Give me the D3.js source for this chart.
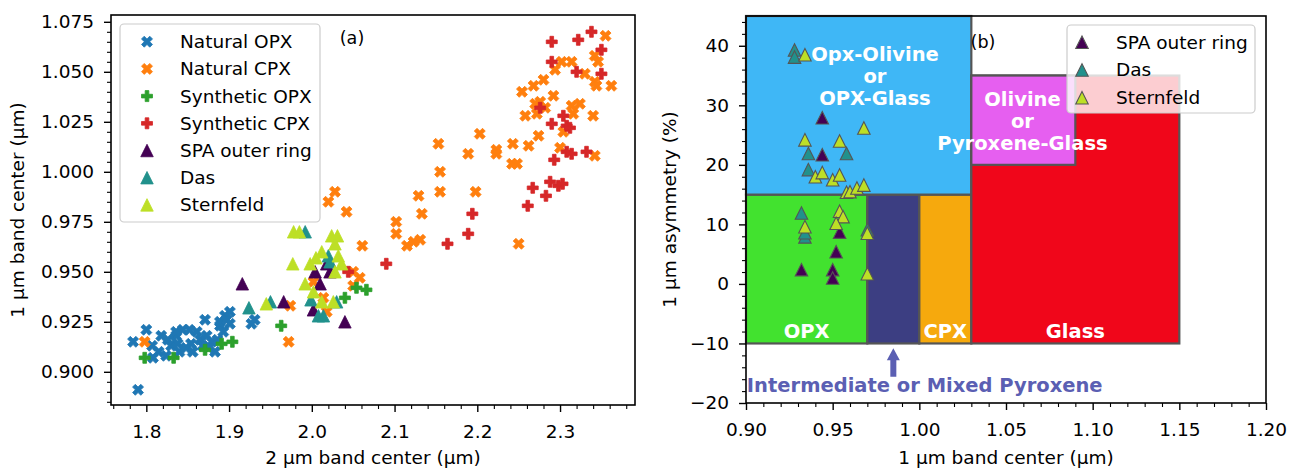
<!DOCTYPE html>
<html><head><meta charset="utf-8">
<script src="https://cdn.jsdelivr.net/npm/d3@7"></script>
<style>
body{margin:0;background:#fff;}
svg{display:block;}
text{font-family:"DejaVu Sans",sans-serif;}
</style>
</head><body>
<svg id="c" width="1295" height="469"></svg>
<script>
// ---------------- DATA ----------------
// Panel (a): 2 µm band center vs 1 µm band center
const natOpx = [[1.784,0.915],[1.800,0.921],[1.818,0.918],[1.807,0.913],[1.815,0.910],[1.808,0.907],[1.824,0.908],[1.830,0.913],[1.836,0.918],[1.844,0.921],[1.852,0.921],[1.861,0.920],[1.840,0.910],[1.848,0.912],[1.854,0.914],[1.865,0.916],[1.871,0.926],[1.873,0.918],[1.879,0.915],[1.883,0.910],[1.875,0.912],[1.889,0.923],[1.889,0.925],[1.895,0.928],[1.901,0.930],[1.901,0.924],[1.893,0.920],[1.838,0.914],[1.856,0.910],[1.790,0.891],[1.927,0.924],[1.931,0.926],[1.897,0.926],[1.836,0.920],[1.826,0.916],[1.868,0.913],[1.886,0.916]];
const natCpx = [[1.798,0.915],[1.972,0.915],[1.974,0.933],[2.028,0.990],[2.020,0.985],[2.042,0.980],[2.061,0.963],[2.050,0.950],[2.058,0.947],[2.050,0.943],[2.002,0.945],[2.014,0.937],[2.018,0.930],[2.102,0.975],[2.102,0.969],[2.115,0.963],[2.123,0.965],[2.131,0.966],[2.129,0.988],[2.133,0.979],[2.153,1.014],[2.155,1.000],[2.155,0.990],[2.189,1.009],[2.203,1.019],[2.198,0.990],[2.223,1.011],[2.223,1.009],[2.243,1.014],[2.242,1.004],[2.248,1.004],[2.250,0.964],[2.355,1.068],[2.342,1.058],[2.346,1.055],[2.302,1.055],[2.314,1.055],[2.294,1.051],[2.330,1.049],[2.280,1.046],[2.268,1.043],[2.254,1.040],[2.342,1.045],[2.344,1.043],[2.362,1.043],[2.292,1.038],[2.270,1.034],[2.276,1.035],[2.282,1.032],[2.314,1.033],[2.324,1.034],[2.316,1.029],[2.258,1.028],[2.272,1.029],[2.340,1.028],[2.304,1.020],[2.274,1.018],[2.262,1.013],[2.300,1.012],[2.342,1.008]];
const synOpx = [[1.798,0.907],[1.833,0.907],[1.871,0.911],[1.891,0.914],[1.904,0.915],[1.963,0.923],[2.040,0.937],[2.054,0.942],[2.066,0.941]];
const synCpx = [[2.044,0.950],[2.090,0.954],[2.164,0.964],[2.189,0.969],[2.194,0.979],[2.261,0.983],[2.267,0.992],[2.283,0.988],[2.288,0.995],[2.298,0.993],[2.303,0.994],[2.293,1.006],[2.308,1.010],[2.314,1.009],[2.332,1.010],[2.290,1.065],[2.322,1.066],[2.338,1.070],[2.350,1.061],[2.290,1.055],[2.320,1.050],[2.350,1.049],[2.276,1.032],[2.304,1.028],[2.308,1.023],[2.312,1.022],[2.290,1.024]];
const spaA = [[1.916,0.944],[1.966,0.935],[2.004,0.950],[2.010,0.944],[2.002,0.931],[2.018,0.954],[2.022,0.950],[2.040,0.925]];
const dasA = [[1.924,0.932],[1.950,0.935],[1.992,0.970],[2.020,0.958],[1.999,0.936],[2.030,0.935],[2.008,0.928],[2.014,0.928],[2.022,0.955]];
const sternA = [[1.978,0.970],[1.985,0.970],[2.024,0.968],[2.031,0.968],[2.028,0.964],[1.977,0.954],[1.998,0.954],[2.012,0.960],[2.032,0.958],[2.036,0.954],[2.028,0.950],[1.992,0.944],[2.002,0.940],[2.012,0.935],[1.945,0.934],[2.026,0.935],[2.005,0.957]];

// Panel (b): 1 µm band center vs 1 µm asymmetry (%)
const spaB = [[0.944,27.9],[0.944,21.7],[0.954,8.7],[0.952,5.4],[0.932,2.4],[0.950,2.4],[0.950,1.0]];
const dasB = [[0.928,39.3],[0.928,38.1],[0.936,21.9],[0.958,21.9],[0.936,19.2],[0.932,11.9],[0.970,9.1],[0.934,7.9],[0.934,8.6]];
const sternB = [[0.934,38.5],[0.934,24.2],[0.954,24.0],[0.968,26.2],[0.940,18.0],[0.944,18.7],[0.950,17.5],[0.954,18.3],[0.958,15.4],[0.960,15.5],[0.964,16.1],[0.968,16.6],[0.954,12.2],[0.956,11.3],[0.952,10.2],[0.934,9.6],[0.970,8.5],[0.970,1.7]];

// Classification regions [x0, x1, y0, y1]
const regionNames = ["OPX", "Intermediate", "CPX", "Opx-Olivine", "Glass", "Olivine"];
const regionBounds = [[0.90,0.97,-10,15],[0.97,1.00,-10,15],[1.00,1.03,-10,15],[0.90,1.03,15,45],[1.03,1.15,-10,35],[1.03,1.09,20,35]];
const regionColors = ["#42e22f","#3c3e82","#f6a90d","#3fb7f6","#f0061a","#e65ff0"];
const regionLabels = [
  {lines:["OPX"], x:0.935, y:-8},
  {lines:["CPX"], x:1.015, y:-8},
  {lines:["Glass"], x:1.09, y:-8},
  {lines:["Opx-Olivine","or","OPX-Glass"], x:0.9744, y:38.6},
  {lines:["Olivine","or","Pyroxene-Glass"], x:1.0595, y:31.1}
];
const arrowX = 0.985, arrowY = [-15.6, -10.8];
const noteText = "Intermediate or Mixed Pyroxene", noteX = 0.9005, noteY = -17.0;

// ticks
const axTicksX = [1.8,1.9,2.0,2.1,2.2,2.3];
const axTicksY = [0.900,0.925,0.950,0.975,1.000,1.025,1.050,1.075];
const bxTicksX = [0.90,0.95,1.00,1.05,1.10,1.15,1.20];
const bxTicksY = [-20,-10,0,10,20,30,40];

const legendA = ["Natural OPX","Natural CPX","Synthetic OPX","Synthetic CPX","SPA outer ring","Das","Sternfeld"];
const legendB = ["SPA outer ring","Das","Sternfeld"];

// ---------------- STYLE ----------------
const C = {natOpx:"#1f77b4", natCpx:"#ff7f0e", synOpx:"#2ca02c", synCpx:"#d62728",
           spa:"#440154", das:"#21918c", stern:"#bddf26"};
const FS = 18.5, FB = 19.5;

function shapePath(type, s){
  let pts;
  if(type==="X"){ pts=[[-1,-2],[0,-1],[1,-2],[2,-1],[1,0],[2,1],[1,2],[0,1],[-1,2],[-2,1],[-1,0],[-2,-1]].map(p=>[p[0]*s/4,p[1]*s/4]); }
  else if(type==="P"){ pts=[[-1,-3],[1,-3],[1,-1],[3,-1],[3,1],[1,1],[1,3],[-1,3],[-1,1],[-3,1],[-3,-1],[-1,-1]].map(p=>[p[0]*s/6,p[1]*s/6]); }
  else { pts=[[0,-1],[-1,1],[1,1]].map(p=>[p[0]*s/2,p[1]*s/2]); }
  return "M"+pts.map(p=>p[0].toFixed(2)+","+p[1].toFixed(2)).join("L")+"Z";
}

const svg = d3.select("#c");

function styleAxis(g){
  g.select(".domain").remove();
  g.selectAll(".tick line").attr("stroke","#000").attr("stroke-width",1.4);
  g.selectAll(".tick text").attr("font-size",FS).attr("fill","#000").attr("font-family","DejaVu Sans");
}
function minorTicks(lo, hi, step, majors){
  const out=[]; const n=Math.round((hi-lo)/step);
  for(let i=0;i<=n;i++){ const v=+(lo+i*step).toFixed(6); if(!majors.some(m=>Math.abs(m-v)<step/10)) out.push(v); }
  return out;
}

// ---------------- PANEL A ----------------
const A = {l:111, r:635, t:15, b:405};
const xA = d3.scaleLinear().domain([1.7573,2.3906]).range([A.l,A.r]);
const yA = d3.scaleLinear().domain([0.8834,1.0784]).range([A.b,A.t]);
const gA = svg.append("g");

function scatter(g, data, type, color, xs, ys, s, edge){
  g.append("g").selectAll("path").data(data).enter().append("path")
    .attr("d", shapePath(type,s))
    .attr("transform", d=>`translate(${xs(d[0])},${ys(d[1])})`)
    .attr("fill", color)
    .attr("stroke", edge? "#555":color)
    .attr("stroke-width", edge?1.1:0.8)
    .attr("stroke-linejoin","miter");
}
scatter(gA, natOpx, "X", C.natOpx, xA, yA, 11);
scatter(gA, natCpx, "X", C.natCpx, xA, yA, 11);
scatter(gA, synOpx, "P", C.synOpx, xA, yA, 11);
scatter(gA, synCpx, "P", C.synCpx, xA, yA, 11);
scatter(gA, spaA, "^", C.spa, xA, yA, 12.5);
scatter(gA, dasA, "^", C.das, xA, yA, 12.5);
scatter(gA, sternA, "^", C.stern, xA, yA, 12.5);

// axes A
gA.append("g").attr("transform",`translate(0,${A.b})`)
  .call(d3.axisBottom(xA).tickValues(axTicksX).tickFormat(d3.format(".1f")).tickSize(7).tickPadding(13)).call(styleAxis);
gA.append("g").attr("transform",`translate(0,${A.b})`)
  .call(d3.axisBottom(xA).tickValues(minorTicks(1.76,2.38,0.02,axTicksX)).tickFormat("").tickSize(4)).call(styleAxis)
  .selectAll(".tick line").attr("stroke-width",1.1);
gA.append("g").attr("transform",`translate(${A.l},0)`)
  .call(d3.axisLeft(yA).tickValues(axTicksY).tickFormat(d3.format(".3f")).tickSize(7).tickPadding(10)).call(styleAxis);
gA.append("g").attr("transform",`translate(${A.l},0)`)
  .call(d3.axisLeft(yA).tickValues(minorTicks(0.885,1.075,0.005,axTicksY)).tickFormat("").tickSize(4)).call(styleAxis)
  .selectAll(".tick line").attr("stroke-width",1.1);
gA.append("rect").attr("x",A.l).attr("y",A.t).attr("width",A.r-A.l).attr("height",A.b-A.t)
  .attr("fill","none").attr("stroke","#000").attr("stroke-width",1.6);

gA.append("text").attr("x",(A.l+A.r)/2).attr("y",464).attr("text-anchor","middle").attr("font-size",FS).text("2 µm band center (µm)");
gA.append("text").attr("transform",`translate(18,${(A.t+A.b)/2}) rotate(-90)`).attr("text-anchor","middle").attr("dy","0.35em").attr("font-size",FS).text("1 µm band center (µm)");
gA.append("text").attr("x",352).attr("y",38).attr("dy","0.35em").attr("text-anchor","middle").attr("font-size",FS*0.95).text("(a)");

// legend A
const legA = gA.append("g");
legA.append("rect").attr("x",120).attr("y",24).attr("width",200).attr("height",198).attr("rx",4)
  .attr("fill","#fff").attr("fill-opacity",0.8).attr("stroke","#ccc").attr("stroke-width",1.2);
const legAShapes = ["X","X","P","P","^","^","^"];
const legAColors = [C.natOpx,C.natCpx,C.synOpx,C.synCpx,C.spa,C.das,C.stern];
legendA.forEach((name,i)=>{
  const y = 41.7 + i*27.2;
  legA.append("path").attr("d",shapePath(legAShapes[i], legAShapes[i]==="^"?12.5:11))
    .attr("transform",`translate(147,${y})`).attr("fill",legAColors[i]).attr("stroke",legAColors[i]).attr("stroke-width",0.8);
  legA.append("text").attr("x",180).attr("y",y).attr("dy","0.35em").attr("font-size",FS).text(name);
});

// ---------------- PANEL B ----------------
const B = {l:746, r:1266, t:16, b:403};
const xB = d3.scaleLinear().domain([0.9,1.2]).range([B.l,B.r]);
const yB = d3.scaleLinear().domain([-20,45]).range([B.b,B.t]);
const gB = svg.append("g");

gB.append("g").selectAll("rect").data(regionBounds).enter().append("rect")
  .attr("x",d=>xB(d[0])).attr("y",d=>yB(d[3]))
  .attr("width",d=>xB(d[1])-xB(d[0])).attr("height",d=>yB(d[2])-yB(d[3]))
  .attr("fill",(d,i)=>regionColors[i]).attr("stroke","#555").attr("stroke-width",2.2);

regionLabels.forEach(lb=>{
  lb.lines.forEach((ln,j)=>{
    gB.append("text").attr("x",xB(lb.x)).attr("y",yB(lb.y)+j*22).attr("dy","0.35em")
      .attr("text-anchor","middle").attr("font-weight","bold").attr("font-size",FB).attr("fill","#fff").text(ln);
  });
});

// arrow
(function(){
  const ax = xB(arrowX), y0 = yB(arrowY[0]), y1 = yB(arrowY[1]);
  const hw = 6.5, sw = 3, hl = 12;
  const p = [[ax-sw,y0],[ax-sw,y1+hl],[ax-hw,y1+hl],[ax,y1],[ax+hw,y1+hl],[ax+sw,y1+hl],[ax+sw,y0]];
  gB.append("path").attr("d","M"+p.map(q=>q.join(",")).join("L")+"Z").attr("fill","#5b5fb3");
})();
gB.append("text").attr("x",xB(noteX)).attr("y",yB(noteY)).attr("dy","0.35em").attr("font-weight","bold")
  .attr("font-size",FB).attr("fill","#5b5fb3").text(noteText);

scatter(gB, spaB, "^", C.spa, xB, yB, 12.5, true);
scatter(gB, dasB, "^", C.das, xB, yB, 12.5, true);
scatter(gB, sternB, "^", C.stern, xB, yB, 12.5, true);

gB.append("g").attr("transform",`translate(0,${B.b})`)
  .call(d3.axisBottom(xB).tickValues(bxTicksX).tickFormat(d3.format(".2f")).tickSize(7).tickPadding(13)).call(styleAxis);
gB.append("g").attr("transform",`translate(0,${B.b})`)
  .call(d3.axisBottom(xB).tickValues(minorTicks(0.9,1.2,0.01,bxTicksX)).tickFormat("").tickSize(4)).call(styleAxis)
  .selectAll(".tick line").attr("stroke-width",1.1);
gB.append("g").attr("transform",`translate(${B.l},0)`)
  .call(d3.axisLeft(yB).tickValues(bxTicksY).tickFormat(d3.format("d")).tickSize(7).tickPadding(10)).call(styleAxis);
gB.append("g").attr("transform",`translate(${B.l},0)`)
  .call(d3.axisLeft(yB).tickValues(minorTicks(-20,44,2,bxTicksY)).tickFormat("").tickSize(4)).call(styleAxis)
  .selectAll(".tick line").attr("stroke-width",1.1);
gB.append("rect").attr("x",B.l).attr("y",B.t).attr("width",B.r-B.l).attr("height",B.b-B.t)
  .attr("fill","none").attr("stroke","#000").attr("stroke-width",1.6);

gB.append("text").attr("x",(B.l+B.r)/2).attr("y",464).attr("text-anchor","middle").attr("font-size",FS).text("1 µm band center (µm)");
gB.append("text").attr("transform",`translate(670,${(B.t+B.b)/2}) rotate(-90)`).attr("text-anchor","middle").attr("dy","0.35em").attr("font-size",FS).text("1 µm asymmetry (%)");
gB.append("text").attr("x",983).attr("y",42).attr("dy","0.35em").attr("text-anchor","middle").attr("font-size",FS*0.95).text("(b)");

// legend B
const legB = gB.append("g");
legB.append("rect").attr("x",1067).attr("y",25).attr("width",188).attr("height",88).attr("rx",4)
  .attr("fill","#fff").attr("fill-opacity",0.8).attr("stroke","#ccc").attr("stroke-width",1.2);
const legBColors = [C.spa,C.das,C.stern];
legendB.forEach((name,i)=>{
  const y = 42.3 + i*27.7;
  legB.append("path").attr("d",shapePath("^",12.5)).attr("transform",`translate(1082,${y})`)
    .attr("fill",legBColors[i]).attr("stroke","#555").attr("stroke-width",1.1);
  legB.append("text").attr("x",1116).attr("y",y).attr("dy","0.35em").attr("font-size",FS).text(name);
});
</script>
</body></html>
